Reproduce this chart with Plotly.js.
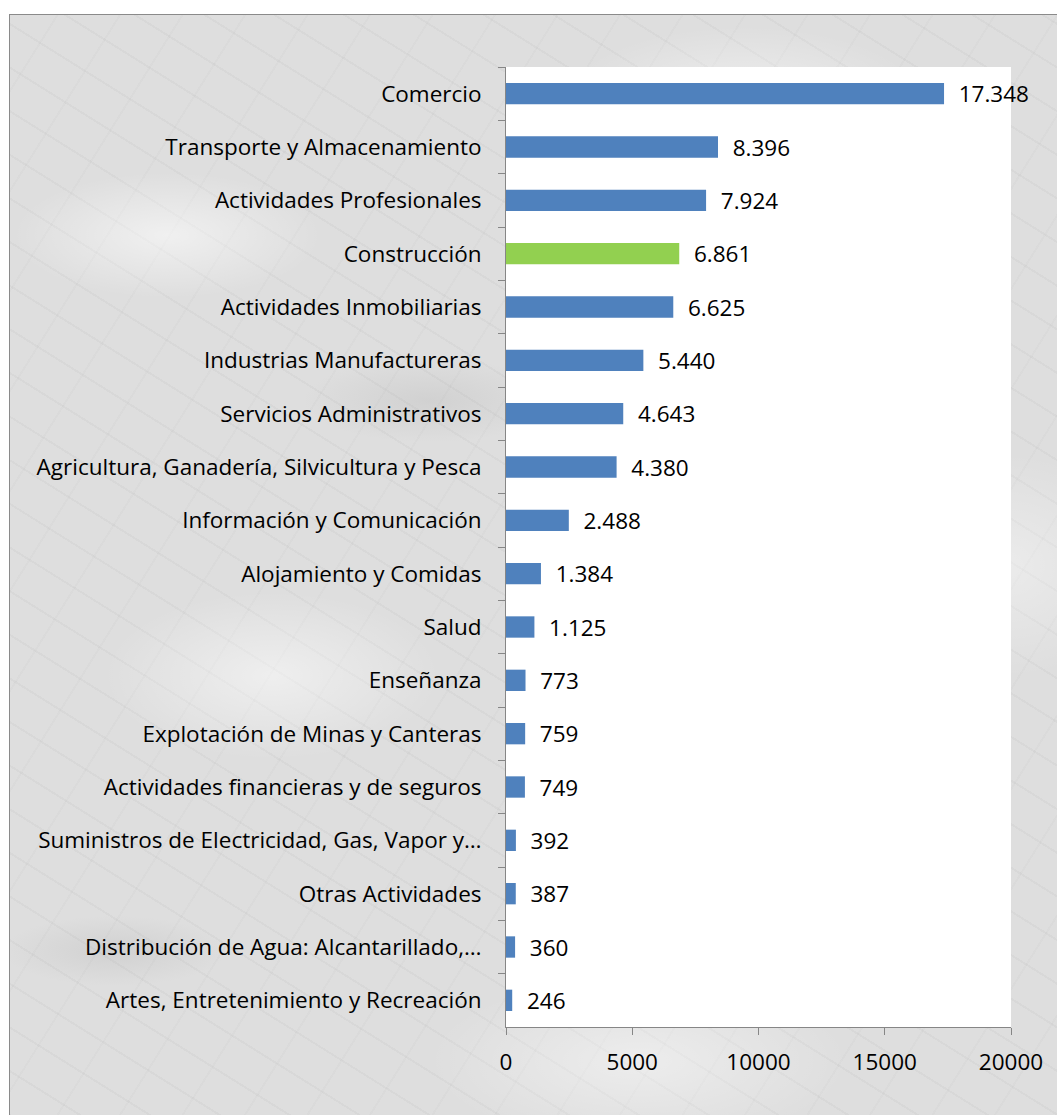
<!DOCTYPE html>
<html>
<head>
<meta charset="utf-8">
<script src="https://cdn.plot.ly/plotly-3.0.1.min.js"></script>
<style>
html,body{margin:0;padding:0;background:#ffffff;width:1057px;height:1115px;overflow:hidden;}
#frame{position:absolute;left:9px;top:14px;width:1048px;height:1101px;border-left:1px solid #8a8a8a;border-top:1px solid #8a8a8a;
background-color:#dedede;
background-image:
 radial-gradient(ellipse 220px 90px at 15% 20%, rgba(255,255,255,0.55), transparent 70%),
 radial-gradient(ellipse 260px 110px at 70% 8%, rgba(255,255,255,0.5), transparent 70%),
 radial-gradient(ellipse 240px 120px at 25% 60%, rgba(255,255,255,0.5), transparent 70%),
 radial-gradient(ellipse 300px 120px at 60% 95%, rgba(255,255,255,0.45), transparent 70%),
 radial-gradient(ellipse 200px 160px at 95% 50%, rgba(255,255,255,0.4), transparent 70%),
 radial-gradient(ellipse 180px 60px at 40% 35%, rgba(150,150,150,0.18), transparent 70%),
 radial-gradient(ellipse 160px 50px at 10% 85%, rgba(150,150,150,0.18), transparent 70%),
 repeating-linear-gradient(32deg, rgba(120,120,120,0.06) 0px, rgba(120,120,120,0.06) 2px, transparent 2px, transparent 37px),
 repeating-linear-gradient(-58deg, rgba(130,130,130,0.04) 0px, rgba(130,130,130,0.04) 2px, transparent 2px, transparent 53px);}
#chart{position:absolute;left:0;top:0;width:1047px;height:1100px;}
</style>
</head>
<body>
<div id="frame"><div id="chart"></div></div>
<script>
const categories = [
  "Comercio",
  "Transporte y Almacenamiento",
  "Actividades Profesionales",
  "Construcción",
  "Actividades Inmobiliarias",
  "Industrias Manufactureras",
  "Servicios Administrativos",
  "Agricultura, Ganadería, Silvicultura y Pesca",
  "Información y Comunicación",
  "Alojamiento y Comidas",
  "Salud",
  "Enseñanza",
  "Explotación de Minas y Canteras",
  "Actividades financieras y de seguros",
  "Suministros de Electricidad, Gas, Vapor y…",
  "Otras Actividades",
  "Distribución de Agua: Alcantarillado,…",
  "Artes, Entretenimiento y Recreación"
];
const values = [17348, 8396, 7924, 6861, 6625, 5440, 4643, 4380, 2488, 1384, 1125, 773, 759, 749, 392, 387, 360, 246];
const highlighted = "Construcción";
const xTicks = [0, 5000, 10000, 15000, 20000];

const colors = categories.map(c => c === highlighted ? "#92D050" : "#4F81BD");
const FONT = "'Open Sans', sans-serif";
const FS = 22.5;

const trace = {
  type: "bar",
  orientation: "h",
  y: categories,
  x: values,
  marker: {color: colors, line: {width: 0}},
  texttemplate: "\u00A0\u00A0%{x:,}",
  textposition: "outside",
  constraintext: "none",
  textfont: {family: FONT, size: FS, color: "#000000"},
  cliponaxis: false,
  hoverinfo: "none"
};

const layout = {
  width: 1047,
  height: 1100,
  margin: {l: 496, r: 46, t: 52, b: 88},
  paper_bgcolor: "rgba(0,0,0,0)",
  plot_bgcolor: "#ffffff",
  separators: ",.",
  bargap: 0.6,
  showlegend: false,
  font: {family: FONT, size: FS, color: "#000000"},
  xaxis: {
    range: [0, 20000],
    tickvals: xTicks,
    tickformat: "d",
    showgrid: false,
    zeroline: false,
    showline: true,
    linecolor: "#868686",
    linewidth: 1,
    ticks: "outside",
    ticklen: 7,
    tickcolor: "#868686",
    ticklabelstandoff: 8,
    tickfont: {family: FONT, size: FS, color: "#000000"},
    fixedrange: true
  },
  yaxis: {
    type: "category",
    categoryorder: "array",
    categoryarray: categories,
    autorange: "reversed",
    showgrid: false,
    zeroline: false,
    showline: true,
    linecolor: "#868686",
    linewidth: 1,
    ticks: "outside",
    tickson: "boundaries",
    ticklen: 7,
    tickcolor: "#868686",
    ticklabelstandoff: 19,
    tickfont: {family: FONT, size: FS, color: "#000000"},
    fixedrange: true
  }
};

Plotly.newPlot("chart", [trace], layout, {displayModeBar: false, staticPlot: true});
</script>
</body>
</html>
